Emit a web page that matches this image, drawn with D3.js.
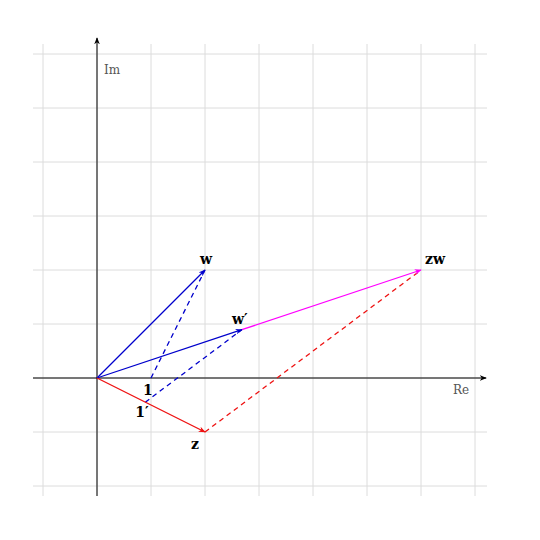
<!DOCTYPE html>
<html><head><meta charset="utf-8">
<script src="https://d3js.org/d3.v7.min.js"></script>
<style>body{margin:0;background:#fff}</style>
</head><body>
<script>
// points in the complex plane
var z = [2, -1];
var w = [2, 2];
var zw = [6, 2];
var r = Math.sqrt(5);
var one = [1, 0];
var oneP = [2 / r, -1 / r];
var wP = [6 / r, 2 / r];
var gridTicks = [-1, 0, 1, 2, 3, 4, 5, 6, 7];
var gridTicksY = [-2, -1, 0, 1, 2, 3, 4, 5, 6];

var svg = d3.select("body").append("svg").attr("width", 540).attr("height", 540);
var x = d3.scaleLinear().domain([0, 1]).range([97, 151]);
var y = d3.scaleLinear().domain([0, 1]).range([378, 324]);

var defs = svg.append("defs");
function marker(id, color) {
    defs.append("marker").attr("id", id).attr("viewBox", "0 0 10 10")
        .attr("refX", 9).attr("refY", 5).attr("markerWidth", 7).attr("markerHeight", 7)
        .attr("markerUnits", "userSpaceOnUse").attr("orient", "auto")
        .append("path").attr("d", "M0,1 L10,5 L0,9 L3,5 Z").attr("fill", color);
}
marker("ablue", "#0000cc");
marker("ared", "#ee1111");
marker("amag", "#ff00ff");
marker("ablack", "#000");

// grid
svg.selectAll(".gv").data(gridTicks).enter().append("line")
    .attr("x1", d => x(d)).attr("x2", d => x(d)).attr("y1", 44).attr("y2", 496)
    .attr("stroke", "#dcdcdc");
svg.selectAll(".gh").data(gridTicksY).enter().append("line")
    .attr("y1", d => y(d)).attr("y2", d => y(d)).attr("x1", 33).attr("x2", 487)
    .attr("stroke", "#dcdcdc");

// axes
svg.append("line").attr("x1", 33).attr("x2", 486).attr("y1", y(0)).attr("y2", y(0))
    .attr("stroke", "#000").attr("marker-end", "url(#ablack)");
svg.append("line").attr("x1", x(0)).attr("x2", x(0)).attr("y1", 496).attr("y2", 38)
    .attr("stroke", "#000").attr("marker-end", "url(#ablack)");
svg.append("text").attr("x", 104).attr("y", 74).text("Im")
    .attr("font-family", "DejaVu Serif").attr("font-size", 12).attr("fill", "#555");
svg.append("text").attr("x", 453).attr("y", 394).text("Re")
    .attr("font-family", "DejaVu Serif").attr("font-size", 12).attr("fill", "#555");

function seg(a, b, color, dash, mk) {
    var l = svg.append("line").attr("x1", x(a[0])).attr("y1", y(a[1]))
        .attr("x2", x(b[0])).attr("y2", y(b[1])).attr("stroke", color).attr("stroke-width", 1.3);
    if (dash) l.attr("stroke-dasharray", "5,4");
    if (mk) l.attr("marker-end", "url(#" + mk + ")");
}
seg(one, w, "#0000cc", true);
seg(oneP, wP, "#0000cc", true);
seg(z, zw, "#ee1111", true);
seg(wP, zw, "#ff00ff", false, "amag");
seg([0, 0], w, "#0000cc", false, "ablue");
seg([0, 0], wP, "#0000cc", false, "ablue");
seg([0, 0], z, "#ee1111", false, "ared");

var labels = [
    {t: "w", p: w, dx: -5, dy: -6},
    {t: "w\u2032", p: wP, dx: -10, dy: -6},
    {t: "zw", p: zw, dx: 4, dy: -6},
    {t: "z", p: z, dx: -14, dy: 17},
    {t: "1", p: one, dx: -8, dy: 17},
    {t: "1\u2032", p: oneP, dx: -10, dy: 15}
];
svg.selectAll(".lab").data(labels).enter().append("text")
    .attr("x", d => x(d.p[0]) + d.dx).attr("y", d => y(d.p[1]) + d.dy)
    .text(d => d.t).attr("font-family", "DejaVu Serif").attr("font-weight", "bold")
    .attr("font-size", 14);
</script>
</body></html>
